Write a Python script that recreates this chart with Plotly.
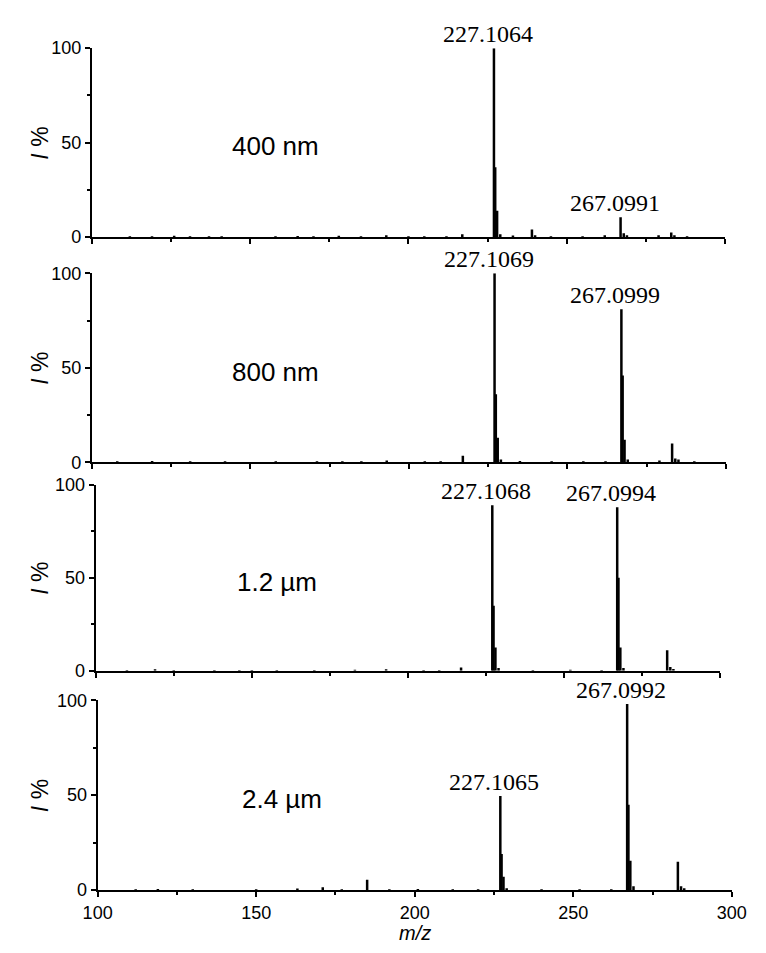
import plotly.graph_objects as go

# ---------------- data ----------------
panel_names = ["400 nm", "800 nm", "1.2 µm", "2.4 µm"]

mz_400 = [112, 119, 126, 131, 137, 141, 158, 165, 170, 178, 185, 193, 200, 205, 212, 217,
          227, 227.4, 228, 229, 233, 239, 240, 245, 255, 262, 267, 268, 269, 279, 283, 284, 288]
int_400 = [0.5, 0.5, 0.7, 0.5, 0.5, 0.5, 0.5, 0.6, 0.5, 0.7, 0.5, 1.0, 0.5, 0.5, 0.5, 1.5,
           100, 37, 14, 1.5, 0.8, 4, 1, 0.5, 0.5, 1.0, 10.5, 2, 1, 1, 2.5, 1, 0.5]

mz_800 = [108, 119, 131, 142, 158, 171, 179, 185, 193, 205, 210, 217, 227, 227.4, 228, 229,
          235, 245, 255, 262, 267, 267.4, 268, 269, 279, 283, 284, 285, 290]
int_800 = [0.5, 0.7, 0.6, 0.5, 0.5, 0.5, 0.5, 0.6, 1.0, 0.5, 0.5, 3.5, 100, 36, 13, 1.5,
           0.7, 0.5, 0.5, 0.6, 81, 46, 12, 1.5, 1, 10, 2, 1.5, 0.5]

mz_1200 = [110, 119, 125, 138, 146, 150, 158, 170, 183, 193, 205, 210, 217, 227, 227.4, 228,
           229, 240, 252, 262, 267, 267.4, 268, 269, 283, 284, 285]
int_1200 = [0.4, 0.8, 0.5, 0.5, 0.5, 0.5, 0.5, 0.5, 0.6, 0.8, 0.5, 0.5, 1.8, 89, 35, 12.5,
            1.5, 0.5, 0.6, 0.5, 88, 50, 12.5, 1.5, 11, 2, 1]

mz_2400 = [112, 119, 130, 150, 163, 171, 177, 185, 192, 201, 212, 220, 227, 227.4, 228, 229,
           240, 252, 262, 267, 267.4, 268, 269, 283, 284, 285]
int_2400 = [0.4, 0.6, 0.4, 0.4, 0.8, 1.5, 0.5, 5.5, 0.5, 0.6, 0.5, 0.5, 49.5, 19, 7, 1,
            0.5, 0.5, 0.5, 98, 45, 15.5, 2, 15, 2, 1]

label_texts = [["227.1064", "267.0991"], ["227.1069", "267.0999"],
               ["227.1068", "267.0994"], ["227.1065", "267.0992"]]
label_mz = [[227, 267], [227, 267], [227, 267], [227, 267]]
label_int = [[100, 10.5], [100, 81], [89, 88], [49.5, 98]]

x_ticks = [100, 150, 200, 250, 300]
y_ticks = [0, 50, 100]

spectra = [(mz_400, int_400), (mz_800, int_800), (mz_1200, int_1200), (mz_2400, int_2400)]

# ---------------- layout geometry (pixels) ----------------
W, H = 766, 953
px_x = [(80, 739), (80, 740), (84, 734), (86, 746)]
px_y = [(39, 232), (269, 462), (485, 675), (705, 899)]

fig = go.Figure()
annotations = []
layout_axes = {}

for i, (mz, inten) in enumerate(spectra):
    n = i + 1
    xs, ys = [], []
    for m, v in zip(mz, inten):
        xs += [m, m, None]
        ys += [0, v, None]
    fig.add_trace(go.Scatter(
        x=xs, y=ys, mode="lines",
        line=dict(color="black", width=2.5),
        xaxis=f"x{n}", yaxis=f"y{n}", showlegend=False, hoverinfo="skip"))

    xd = [px_x[i][0] / W, px_x[i][1] / W]
    yd = [1 - px_y[i][1] / H, 1 - px_y[i][0] / H]
    xkey = "xaxis" if n == 1 else f"xaxis{n}"
    ykey = "yaxis" if n == 1 else f"yaxis{n}"
    layout_axes[xkey] = dict(
        domain=xd, anchor=f"y{n}", range=[100, 300],
        tickvals=x_ticks, ticktext=[str(t) for t in x_ticks],
        showticklabels=(n == 4), ticks="outside", ticklen=5, tickwidth=2,
        tickcolor="black",
        minor=dict(dtick=25, tick0=100, ticks="outside", ticklen=3, tickwidth=1.5,
                   tickcolor="black"),
        showline=True, linecolor="black", linewidth=2, showgrid=False, zeroline=False,
        tickfont=dict(family="Liberation Sans", size=18, color="black"))
    layout_axes[ykey] = dict(
        domain=yd, anchor=f"x{n}", range=[0, 100],
        tickvals=y_ticks, ticktext=[str(t) for t in y_ticks],
        ticks="outside", ticklen=5, tickwidth=2, tickcolor="black",
        minor=dict(dtick=25, tick0=0, ticks="outside", ticklen=3, tickwidth=1.5,
                   tickcolor="black"),
        showline=True, linecolor="black", linewidth=2, showgrid=False, zeroline=False,
        tickfont=dict(family="Liberation Sans", size=18, color="black"))

    # panel name
    annotations.append(dict(
        x=158, y=48, xref=f"x{n}", yref=f"y{n}", text=panel_names[i], showarrow=False,
        font=dict(family="Liberation Sans", size=26, color="black"),
        xanchor="center", yanchor="middle"))
    # peak labels
    for t, m, v in zip(label_texts[i], label_mz[i], label_int[i]):
        annotations.append(dict(
            x=m, y=v, xref=f"x{n}", yref=f"y{n}", text=t, showarrow=False,
            font=dict(family="Liberation Serif", size=24, color="black"),
            xanchor="center", yanchor="bottom", xshift=-6, yshift=-1))
    # y title
    yc = 1 - (px_y[i][0] + px_y[i][1]) / 2 / H
    annotations.append(dict(
        x=26 / W, y=yc, xref="paper", yref="paper", text="<i>I</i> %", showarrow=False,
        textangle=-90, font=dict(family="Liberation Sans", size=23, color="black"),
        xanchor="center", yanchor="middle"))

annotations.append(dict(
    x=(px_x[3][0] + px_x[3][1]) / 2 / W, y=1 - 943 / H, xref="paper", yref="paper",
    text="<i>m/z</i>", showarrow=False,
    font=dict(family="Liberation Sans", size=20, color="black"),
    xanchor="center", yanchor="middle"))

fig.update_layout(
    width=W, height=H, margin=dict(l=0, r=0, t=0, b=0),
    paper_bgcolor="white", plot_bgcolor="white",
    annotations=annotations, **layout_axes)

fig.write_html("out.html")
